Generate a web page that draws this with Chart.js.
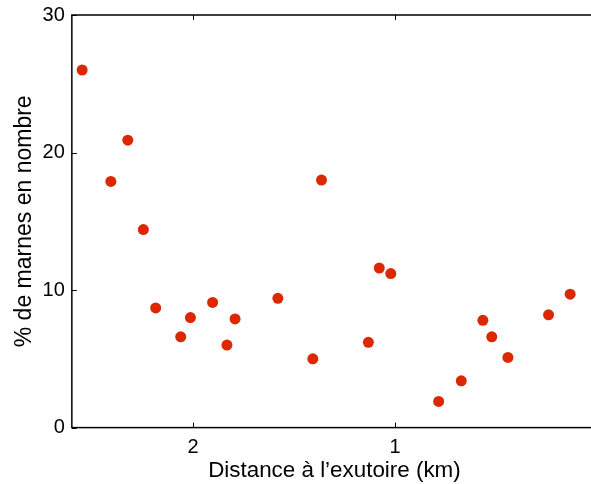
<!DOCTYPE html>
<html>
<head>
<meta charset="utf-8">
<script src="https://cdn.jsdelivr.net/npm/chart.js@4"></script>
<style>
  html, body { margin: 0; padding: 0; background: #fff; overflow: hidden; }
  #wrap { width: 591px; height: 484px; overflow: hidden; }
</style>
</head>
<body>
<div id="wrap"><canvas id="chart" width="620" height="484"></canvas></div>
<script>
// distance to outlet (km) and % marl
var distanceKm = [2.549, 2.407, 2.323, 2.246, 2.185, 2.061, 2.013, 1.903, 1.832, 1.792,
                  1.580, 1.407, 1.364, 1.132, 1.078, 1.021, 0.784, 0.672, 0.565, 0.521,
                  0.441, 0.240, 0.133]
var marnesPct = [26.0, 17.9, 20.9, 14.4, 8.7, 6.6, 8.0, 9.1, 6.0, 7.9,
                 9.4, 5.0, 18.0, 6.2, 11.6, 11.2, 1.9, 3.4, 7.8, 6.6,
                 5.1, 8.2, 9.7]
var xTicks = [0, 1, 2]
var yTicks = [0, 10, 20, 30]

var points = distanceKm.map(function (d, i) {
    return {x: d, y: marnesPct[i]}
})

// box around the plot with matlab style inward ticks
var frame = {
    id: 'frame',
    afterDraw: function (chart) {
        var ctx = chart.ctx
        var a = chart.chartArea
        var xs = chart.scales.x
        var ys = chart.scales.y
        ctx.save()
        ctx.strokeStyle = '#000'
        ctx.lineWidth = 1.5
        ctx.strokeRect(a.left, a.top, a.right - a.left, a.bottom - a.top)
        ctx.lineWidth = 1
        ctx.beginPath()
        xTicks.forEach(function (v) {
            var px = Math.round(xs.getPixelForValue(v)) + 0.5
            ctx.moveTo(px, a.bottom); ctx.lineTo(px, a.bottom - 5)
            ctx.moveTo(px, a.top); ctx.lineTo(px, a.top + 5)
        })
        yTicks.forEach(function (v) {
            var py = Math.round(ys.getPixelForValue(v)) + 0.5
            ctx.moveTo(a.left, py); ctx.lineTo(a.left + 5, py)
            ctx.moveTo(a.right, py); ctx.lineTo(a.right - 5, py)
        })
        ctx.stroke()
        ctx.restore()
    }
}

var ctx = document.getElementById('chart').getContext('2d')
var myChart = new Chart(ctx, {
    type: 'scatter',
    data: {
        datasets: [{
            data: points,
            backgroundColor: 'rgb(220,40,0)',
            borderColor: 'rgb(220,40,0)',
            borderWidth: 0,
            pointRadius: 5.5,
            pointHoverRadius: 5.5
        }]
    },
    options: {
        responsive: false,
        animation: false,
        layout: {autoPadding: false, padding: {left: 5, right: 23, top: 15, bottom: 0}},
        plugins: {legend: {display: false}, tooltip: {enabled: false}},
        scales: {
            x: {
                type: 'linear',
                reverse: true,
                min: 0,
                max: 2.6,
                grid: {display: false, drawTicks: false},
                border: {display: false},
                afterBuildTicks: function (scale) {
                    scale.ticks = xTicks.map(function (v) { return {value: v} })
                },
                ticks: {
                    color: '#000',
                    padding: 8,
                    font: {family: 'Liberation Sans', size: 20},
                    maxRotation: 0
                },
                title: {
                    display: true,
                    text: 'Distance à l’exutoire (km)',
                    color: '#000',
                    font: {family: 'Liberation Sans', size: 22.4, lineHeight: 1.0},
                    padding: {top: -8, bottom: 2}
                }
            },
            y: {
                min: 0,
                max: 30,
                grid: {display: false, drawTicks: false},
                border: {display: false},
                afterBuildTicks: function (scale) {
                    scale.ticks = yTicks.map(function (v) { return {value: v} })
                },
                ticks: {
                    color: '#000',
                    padding: 7,
                    font: {family: 'Liberation Sans', size: 20, lineHeight: 0.8}
                },
                title: {
                    display: true,
                    text: '% de marnes en nombre',
                    color: '#000',
                    font: {family: 'Liberation Sans', size: 23},
                    padding: {top: 6, bottom: -3}
                }
            }
        }
    },
    plugins: [frame]
})
</script>
</body>
</html>
